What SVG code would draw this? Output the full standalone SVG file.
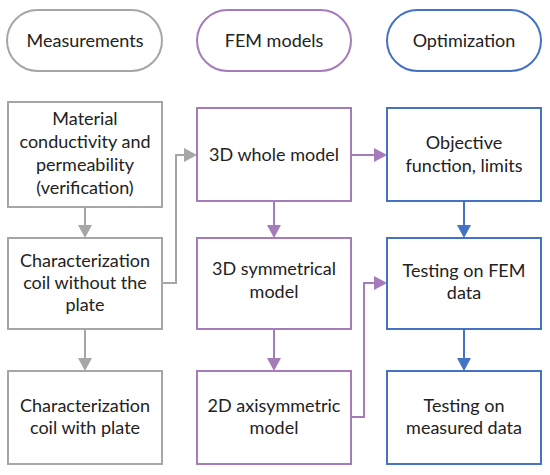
<svg xmlns="http://www.w3.org/2000/svg" width="550" height="475" viewBox="0 0 550 475">
<style>
text{font-family:Lato,"Open Sans","Liberation Sans",sans-serif;font-size:18px;fill:#222;text-anchor:middle}
.g{fill:#fff;stroke:#A6A6A6;stroke-width:2}
.p{fill:#fff;stroke:#A67BBA;stroke-width:2}
.b{fill:#fff;stroke:#4472C4;stroke-width:2}
.cg{fill:none;stroke:#A6A6A6;stroke-width:2}
.cp{fill:none;stroke:#A67BBA;stroke-width:2}
.cb{fill:none;stroke:#4472C4;stroke-width:2}
</style>
<defs>
<marker id="ag" markerUnits="userSpaceOnUse" markerWidth="14" markerHeight="14" refX="3" refY="7" orient="auto"><path d="M0,0 L13,7 L0,14 z" fill="#A6A6A6"/></marker>
<marker id="ap" markerUnits="userSpaceOnUse" markerWidth="14" markerHeight="14" refX="3" refY="7" orient="auto"><path d="M0,0 L13,7 L0,14 z" fill="#A67BBA"/></marker>
<marker id="ab" markerUnits="userSpaceOnUse" markerWidth="14" markerHeight="14" refX="3" refY="7" orient="auto"><path d="M0,0 L13,7 L0,14 z" fill="#4472C4"/></marker>
</defs>
<rect width="550" height="475" fill="#fff"/>
<g id="connectors">
<path class="cg" d="M85,207 V228" marker-end="url(#ag)"/>
<path class="cg" d="M85,329 V361" marker-end="url(#ag)"/>
<path class="cg" d="M162,283 H176 V155 H187" marker-end="url(#ag)"/>
<path class="cp" d="M274,201 V228" marker-end="url(#ap)"/>
<path class="cp" d="M274,329 V361" marker-end="url(#ap)"/>
<path class="cp" d="M351,155 H377" marker-end="url(#ap)"/>
<path class="cp" d="M351,417 H364 V283 H377" marker-end="url(#ap)"/>
<path class="cb" d="M464,201 V228" marker-end="url(#ab)"/>
<path class="cb" d="M464,329 V361" marker-end="url(#ab)"/>
</g>
<g id="measurements"><rect class="g" x="7" y="10" width="155" height="61" rx="30.5"/><text x="85" y="47">Measurements</text></g>
<g id="fem-models"><rect class="p" x="197" y="10" width="154" height="61" rx="30.5"/><text x="274" y="47">FEM models</text></g>
<g id="optimization"><rect class="b" x="387" y="10" width="154" height="61" rx="30.5"/><text x="464" y="47">Optimization</text></g>
<g id="material"><rect class="g" x="8" y="102" width="154" height="105"/><text x="85" y="125">Material</text><text x="85" y="148">conductivity and</text><text x="85" y="171">permeability</text><text x="85" y="194">(verification)</text></g>
<g id="coil-without"><rect class="g" x="8" y="238" width="154" height="91"/><text x="85" y="267">Characterization</text><text x="85" y="289">coil without the</text><text x="85" y="311">plate</text></g>
<g id="coil-with"><rect class="g" x="8" y="371" width="154" height="93"/><text x="85" y="412">Characterization</text><text x="85" y="434">coil with plate</text></g>
<g id="whole-3d"><rect class="p" x="197" y="108" width="154" height="93"/><text x="274" y="161">3D whole model</text></g>
<g id="sym-3d"><rect class="p" x="197" y="238" width="154" height="91"/><text x="274" y="275">3D symmetrical</text><text x="274" y="298">model</text></g>
<g id="axi-2d"><rect class="p" x="197" y="371" width="154" height="93"/><text x="274" y="412">2D axisymmetric</text><text x="274" y="434">model</text></g>
<g id="objective"><rect class="b" x="387" y="108" width="154" height="93"/><text x="464" y="149">Objective</text><text x="464" y="172">function, limits</text></g>
<g id="testing-fem"><rect class="b" x="387" y="238" width="154" height="91"/><text x="464" y="277">Testing on FEM</text><text x="464" y="299">data</text></g>
<g id="testing-measured"><rect class="b" x="387" y="371" width="154" height="93"/><text x="464" y="412">Testing on</text><text x="464" y="434">measured data</text></g>
</svg>
